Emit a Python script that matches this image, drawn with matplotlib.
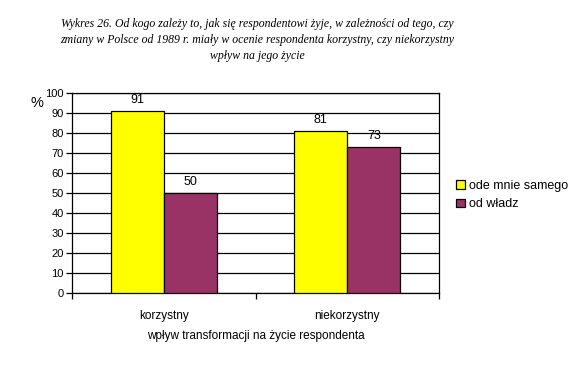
import numpy as np
import matplotlib.pyplot as plt
from matplotlib.ticker import FixedLocator

# data
categories = ["korzystny", "niekorzystny"]
series_names = ["ode mnie samego", "od władz"]
od_siebie = [91, 81]
od_wladz = [50, 73]
colors = ["#FFFF00", "#993366"]

title = ("Wykres 26. Od kogo zależy to, jak się respondentowi żyje, w zależności od tego, czy\n"
         "zmiany w Polsce od 1989 r. miały w ocenie respondenta korzystny, czy niekorzystny\n"
         "wpływ na jego życie")

plt.rcParams["font.family"] = ["Liberation Sans", "DejaVu Sans"]

fig = plt.figure(figsize=(5.78, 3.67), dpi=100)
ax = fig.add_axes([0.1246, 0.2003, 0.6349, 0.5450])

x = np.arange(len(categories))
w = 0.29
bars1 = ax.bar(x - w / 2, od_siebie, w, color=colors[0], edgecolor="black",
               linewidth=0.9, label=series_names[0], zorder=3)
bars2 = ax.bar(x + w / 2, od_wladz, w, color=colors[1], edgecolor="black",
               linewidth=0.9, label=series_names[1], zorder=3)

for bars in (bars1, bars2):
    for b in bars:
        ax.text(b.get_x() + b.get_width() / 2, b.get_height() + 2.5,
                f"{int(b.get_height())}", ha="center", va="bottom", fontsize=9)

ax.set_xlim(-0.5, 1.5)
ax.set_ylim(0, 100)
ax.set_yticks(range(0, 101, 10))
ax.yaxis.grid(True, color="black", linewidth=0.9, zorder=0)
ax.set_axisbelow(True)
ax.tick_params(axis="y", labelsize=8, length=4, width=0.9, pad=2)

# category labels without ticks, ticks at boundaries
ax.set_xticks(x)
ax.set_xticklabels(categories, fontsize=8.5)
ax.tick_params(axis="x", length=0, pad=12)
ax.xaxis.set_minor_locator(FixedLocator([-0.5, 0.5, 1.5]))
ax.tick_params(axis="x", which="minor", length=4, width=0.9)

for s in ax.spines.values():
    s.set_linewidth(0.9)

ax.set_xlabel("wpływ transformacji na życie respondenta", fontsize=8.5, labelpad=6)
ax.text(-0.095, 0.985, "%", transform=ax.transAxes, fontsize=10.5, ha="center", va="top")

fig.text(0.445, 0.95, title, ha="center", va="top", fontsize=8.5, style="italic",
         family=["Liberation Serif", "DejaVu Serif"], linespacing=1.45)

fig.legend(handles=[bars1, bars2], loc="upper left", bbox_to_anchor=(0.77, 0.54),
           frameon=False, fontsize=9, handlelength=0.7, handleheight=0.7,
           handletextpad=0.35, labelspacing=0.5)

fig.savefig("out.png", dpi=100)
